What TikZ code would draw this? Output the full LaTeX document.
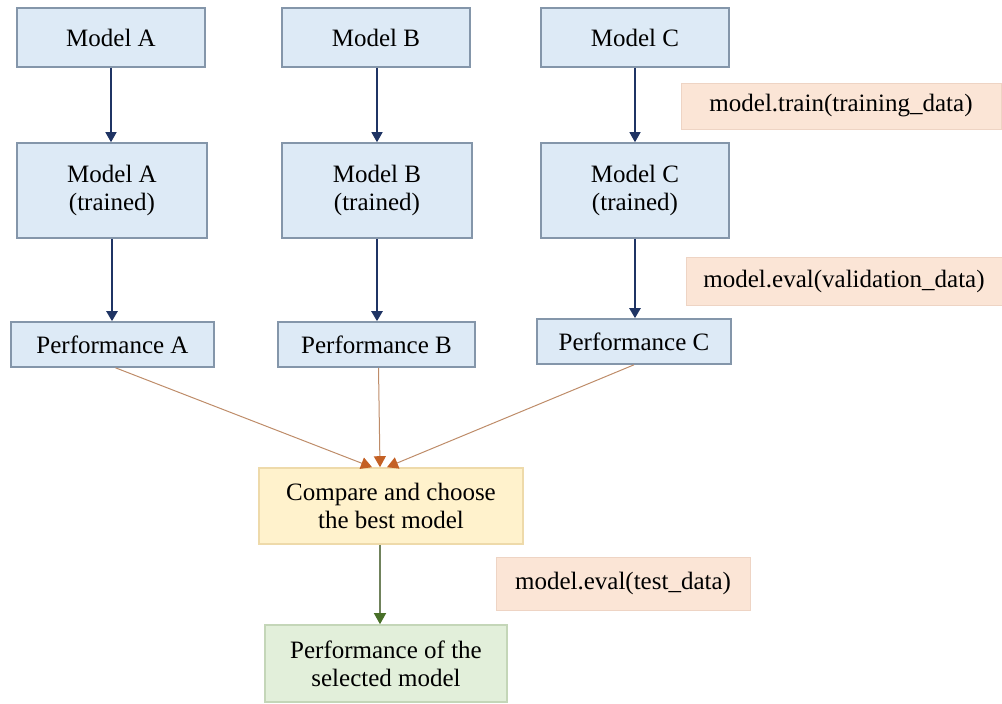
\documentclass[tikz,border=0pt]{standalone}
\usepackage{fontspec}
\setmainfont{Liberation Serif}
\usetikzlibrary{arrows.meta}
\definecolor{bluefill}{RGB}{221,234,246}
\definecolor{blueline}{RGB}{132,150,170}
\definecolor{navy}{RGB}{31,52,100}
\definecolor{yellowfill}{RGB}{255,242,204}
\definecolor{yellowline}{RGB}{238,218,170}
\definecolor{greenfill}{RGB}{226,239,218}
\definecolor{greenline}{RGB}{196,214,184}
\definecolor{codefill}{RGB}{251,229,214}
\definecolor{codeline}{RGB}{238,212,196}
\definecolor{brownline}{RGB}{190,140,105}
\definecolor{brownhead}{RGB}{196,96,36}
\definecolor{oliveline}{RGB}{112,130,92}
\definecolor{greenhead}{RGB}{72,112,40}
\tikzset{
  box/.style={draw=blueline, fill=bluefill, line width=1.6pt, align=center,
    inner sep=0pt, font=\fontsize{25}{28}\selectfont},
  codebox/.style={draw=codeline, fill=codefill, line width=1pt, align=center,
    inner sep=0pt, font=\fontsize{25}{28}\selectfont},
  thinarrow/.style={draw=navy, line width=1.3pt, -{Triangle[width=11pt,length=10pt]}},
  thickarrow/.style={draw=navy, line width=2.3pt, -{Triangle[width=11pt,length=10pt]}},
  brownarrow/.style={draw=brownline, line width=1pt, -{Triangle[width=12pt,length=11pt,fill=brownhead,color=brownhead]}},
  greenarrow/.style={draw=oliveline, line width=1.3pt, -{Triangle[width=12pt,length=11pt,fill=greenhead,color=greenhead]}},
}
\begin{document}
\begin{tikzpicture}[x=1pt,y=-1pt]
\useasboundingbox (0,0) rectangle (1002,704);

% top row: untrained models
\node[box, minimum width=188pt, minimum height=59pt] (mA) at (111,37.5) {Model A};
\node[box, minimum width=188pt, minimum height=59pt] (mB) at (376,37.5) {Model B};
\node[box, minimum width=188pt, minimum height=59pt] (mC) at (635,37.5) {Model C};

% middle row: trained models
\node[box, minimum width=190pt, minimum height=95pt] (tA) at (112,190.5) {Model A\\(trained)};
\node[box, minimum width=190pt, minimum height=95pt] (tB) at (377,190.5) {Model B\\(trained)};
\node[box, minimum width=188pt, minimum height=95pt] (tC) at (635,190.5) {Model C\\(trained)};

% performance row
\node[box, minimum width=203pt, minimum height=45pt] (pA) at (112.5,344.5) {Performance A};
\node[box, minimum width=197pt, minimum height=45pt] (pB) at (376.5,344.5) {Performance B};
\node[box, minimum width=194pt, minimum height=45pt] (pC) at (634,341.5) {Performance C};

% selection and final result
\node[box, draw=yellowline, fill=yellowfill, minimum width=264pt, minimum height=76pt] (cmp) at (391,506) {Compare and choose\\the best model};
\node[box, draw=greenline, fill=greenfill, minimum width=242pt, minimum height=77pt] (fin) at (386,663.5) {Performance of the\\selected model};

% code annotations
\node[codebox, minimum width=320pt, minimum height=46pt] (train) at (841,106) {model.train(training\_data)};
\node[codebox, minimum width=316pt, minimum height=48pt] (val) at (844,281) {model.eval(validation\_data)};
\node[codebox, minimum width=254pt, minimum height=53pt] (test) at (623,583.5) {model.eval(test\_data)};

% training arrows
\draw[thinarrow] (mA.south) -- (mA |- tA.north);
\draw[thinarrow] (mB.south -| tB) -- (tB.north);
\draw[thinarrow] (mC.south) -- (tC.north);

% validation arrows
\draw[thickarrow] (tA.south) -- (tA |- pA.north);
\draw[thickarrow] (tB.south) -- (tB |- pB.north);
\draw[thickarrow] (tC.south) -- (tC |- pC.north);

% performances gathered for comparison
\draw[brownarrow] ([xshift=3pt]pA.south) -- ([xshift=-19pt]cmp.north);
\draw[brownarrow] ([xshift=2pt]pB.south) -- ([xshift=-11pt]cmp.north);
\draw[brownarrow] (pC.south) -- ([xshift=-4pt]cmp.north);

% final test
\draw[greenarrow] ([xshift=-11pt]cmp.south) -- ([xshift=-6pt]fin.north);
\end{tikzpicture}
\end{document}
